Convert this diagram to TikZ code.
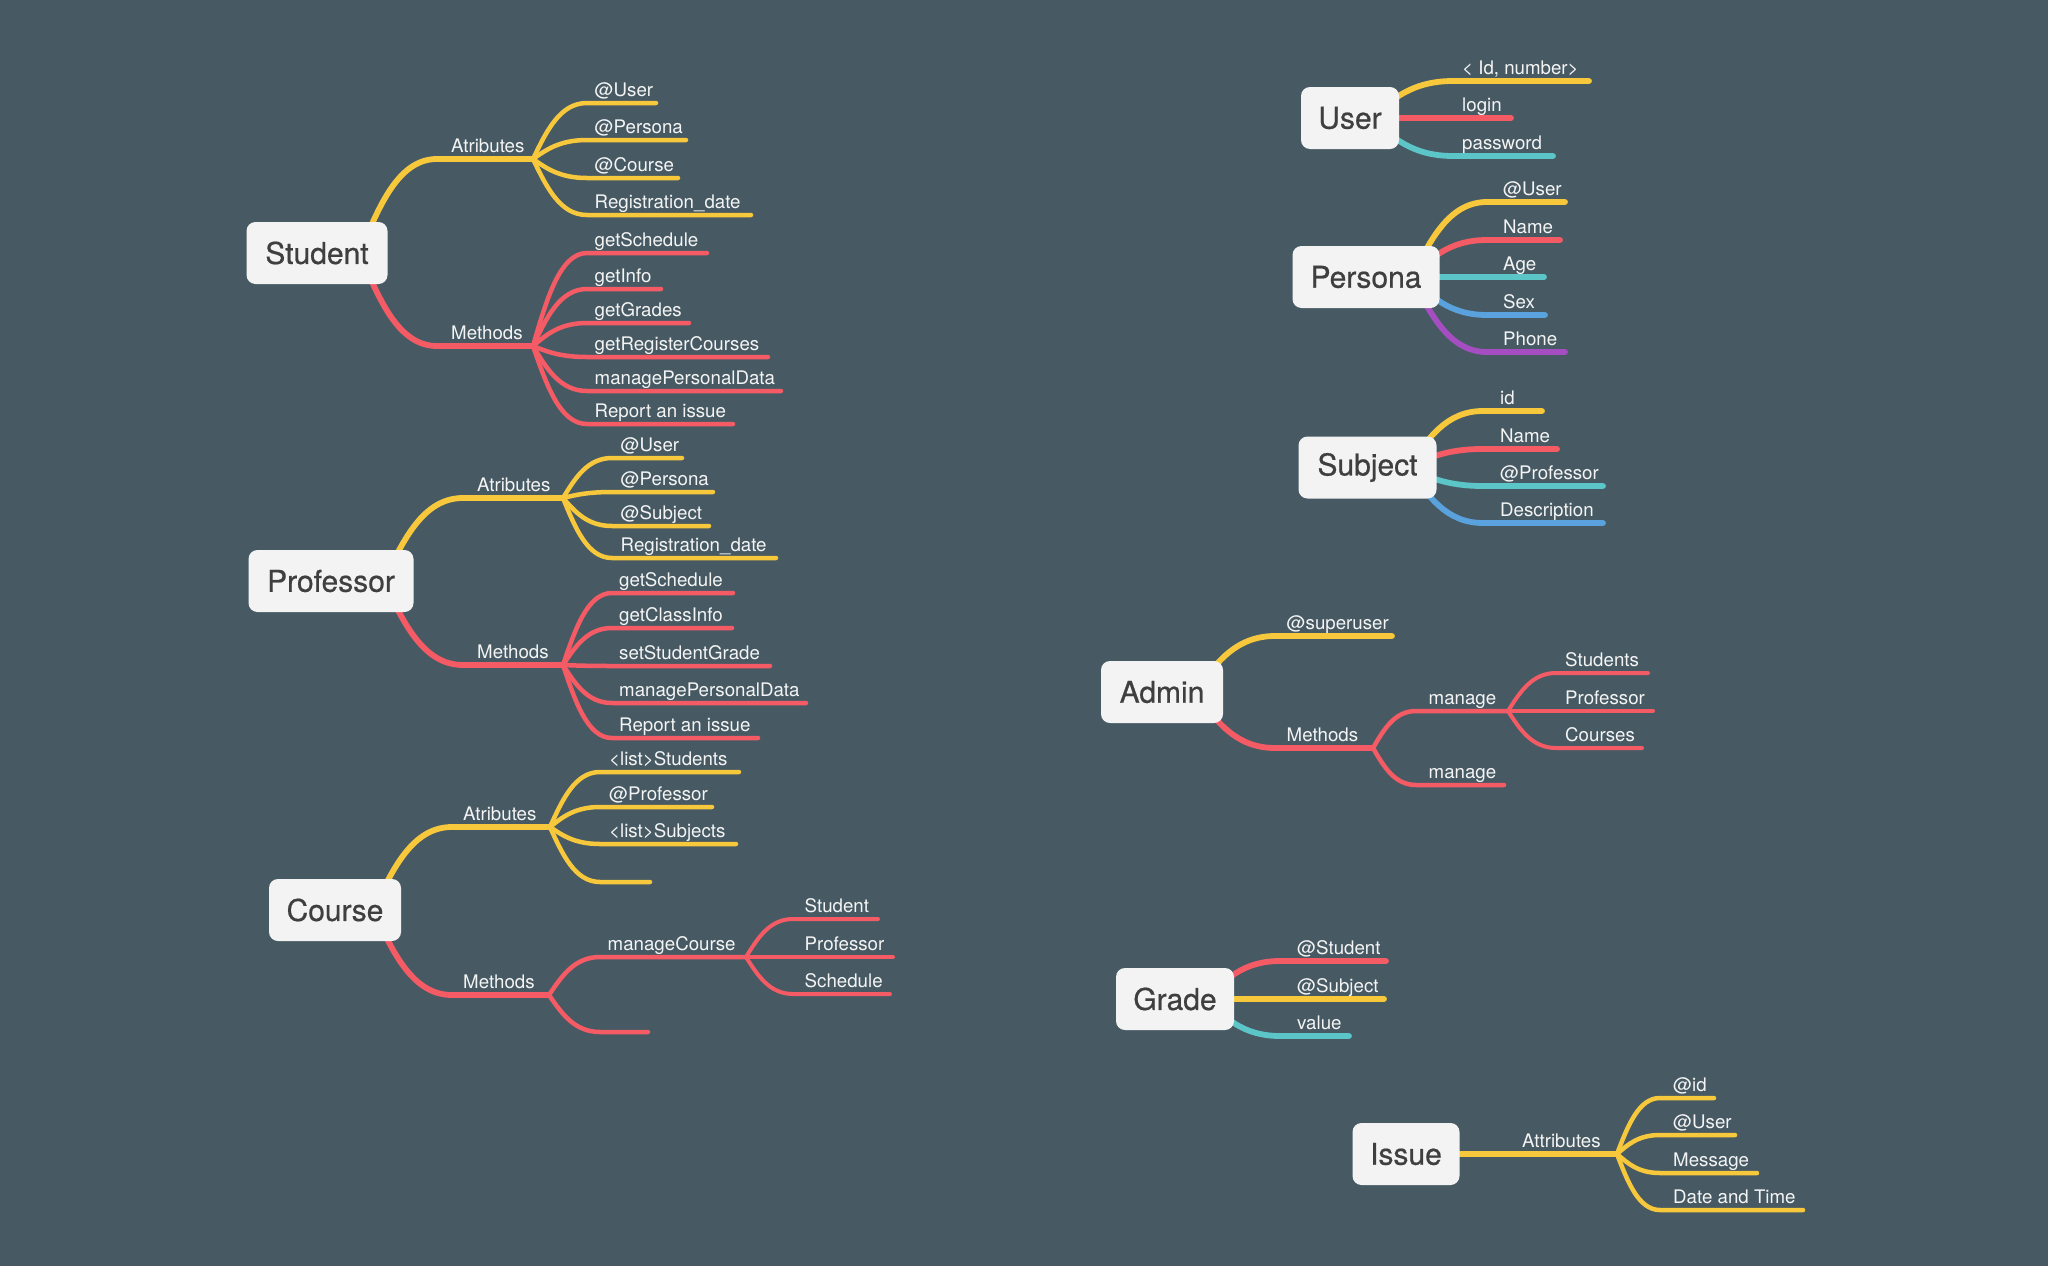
\documentclass[tikz,border=0pt]{standalone}
\usepackage{fontspec}
\setmainfont{TeX Gyre Heros}
\newfontfamily\rootfont{TeX Gyre Heros}[FakeBold=0.6]
\usetikzlibrary{calc}

\definecolor{bgc}{HTML}{475A64}
\definecolor{cy}{HTML}{F8C83C}
\definecolor{cr}{HTML}{F45B64}
\definecolor{ct}{HTML}{5CC5C8}
\definecolor{cb}{HTML}{5AA2DE}
\definecolor{cp}{HTML}{A54EC1}
\definecolor{boxfill}{HTML}{F3F3F3}
\definecolor{boxtext}{HTML}{3F3F3F}
\definecolor{lbltext}{HTML}{F4F4F4}

\pgfdeclarelayer{bg}
\pgfsetlayers{bg,main}

\tikzset{
  root/.style={fill=boxfill, rounded corners=9pt, minimum height=62pt, text=boxtext,
    font=\rootfont\fontsize{30}{32}\selectfont, inner sep=0pt},
  lbl/.style={anchor=base west, text=lbltext, font=\fontsize{18.7}{20}\selectfont, inner sep=0pt},
  lv1/.style={line width=5.8pt, line cap=round},
  lv2/.style={line width=4.5pt, line cap=round},
  lv3/.style={line width=4pt, line cap=round},
  curv/.style={to path={let \p1=(\tikztostart),\p2=(\tikztotarget) in
    .. controls ({\x1+0.25*(\x2-\x1)},{\y1+0.5*(\y2-\y1)}) and ({0.5*(\x1+\x2)},\y2) .. (\tikztotarget)}},
}

% branch: name, style, parent point, x where the underline starts, y, x where it ends, label offset, label
\newcommand\twig[8]{%
  \coordinate (#1-in) at (#4,#5);
  \coordinate (#1) at (#6,#5);
  \node[lbl] (#1-t) at ([xshift=#7pt,yshift=7pt]#1-in) {#8};
  \begin{pgfonlayer}{bg}\draw[#2] (#3) to[curv] (#1-in) -- (#1);\end{pgfonlayer}%
}
% branch without a label
\newcommand\stub[6]{%
  \coordinate (#1-in) at (#4,#5);
  \coordinate (#1) at (#6,#5);
  \begin{pgfonlayer}{bg}\draw[#2] (#3) to[curv] (#1-in) -- (#1);\end{pgfonlayer}%
}

\begin{document}
\begin{tikzpicture}[x=1pt,y=-1pt]
\useasboundingbox (0,0) rectangle (2048,1266);
\begin{pgfonlayer}{bg}
  \fill[bgc] (0,0) rectangle (2048,1266);
\end{pgfonlayer}

% ---------- Student ----------
\node[root, minimum width=141pt] (student) at (317,253) {Student};
\coordinate (student-o) at ([xshift=-28pt]student.east);
\twig{sa}{cy,lv1}{student-o}{437}{159}{533}{14}{Atributes}
\twig{sa1}{cy,lv2}{sa}{587}{103}{656}{7.5}{@User}
\twig{sa2}{cy,lv2}{sa}{587}{140}{686}{7.5}{@Persona}
\twig{sa3}{cy,lv2}{sa}{587}{178}{678}{7.5}{@Course}
\twig{sa4}{cy,lv2}{sa}{587}{215}{751}{7.5}{Registration\_date}
\twig{sm}{cr,lv1}{student-o}{437}{346}{533}{14}{Methods}
\twig{sm1}{cr,lv2}{sm}{587}{253}{707}{7.5}{getSchedule}
\twig{sm2}{cr,lv2}{sm}{587}{289}{661}{7.5}{getInfo}
\twig{sm3}{cr,lv2}{sm}{587}{323}{689}{7.5}{getGrades}
\twig{sm4}{cr,lv2}{sm}{587}{357}{768}{7.5}{getRegisterCourses}
\twig{sm5}{cr,lv2}{sm}{587}{391}{781}{7.5}{managePersonalData}
\twig{sm6}{cr,lv2}{sm}{587}{424}{733}{7.5}{Report an issue}

% ---------- Professor ----------
\node[root, minimum width=165pt] (prof) at (331,581) {Professor};
\coordinate (prof-o) at ([xshift=-30pt]prof.east);
\twig{pa}{cy,lv1}{prof-o}{463}{498}{563}{14}{Atributes}
\twig{pa1}{cy,lv2}{pa}{612}{458}{682}{8.5}{@User}
\twig{pa2}{cy,lv2}{pa}{612}{492}{713}{8.5}{@Persona}
\twig{pa3}{cy,lv2}{pa}{612}{526}{709}{8.5}{@Subject}
\twig{pa4}{cy,lv2}{pa}{612}{558}{776}{8.5}{Registration\_date}
\twig{pm}{cr,lv1}{prof-o}{463}{665}{563}{14}{Methods}
\twig{pm1}{cr,lv2}{pm}{612}{593}{733}{7}{getSchedule}
\twig{pm2}{cr,lv2}{pm}{612}{628}{732}{7}{getClassInfo}
\twig{pm3}{cr,lv2}{pm}{612}{666}{770}{7}{setStudentGrade}
\twig{pm4}{cr,lv2}{pm}{612}{703}{806}{7}{managePersonalData}
\twig{pm5}{cr,lv2}{pm}{612}{738}{758}{7}{Report an issue}

% ---------- Course ----------
\node[root, minimum width=132pt] (course) at (335,910) {Course};
\coordinate (course-o) at ([xshift=-28pt]course.east);
\twig{ca}{cy,lv1}{course-o}{452}{827}{550}{11}{Atributes}
\twig{ca1}{cy,lv2}{ca}{600}{772}{739}{9}{<list>Students}
\twig{ca2}{cy,lv2}{ca}{600}{807}{712}{9}{@Professor}
\twig{ca3}{cy,lv2}{ca}{600}{844}{736}{9}{<list>Subjects}
\stub{ca4}{cy,lv2}{ca}{600}{882}{650}
\twig{cm}{cr,lv1}{course-o}{452}{995}{549}{11}{Methods}
\twig{cm1}{cr,lv2}{cm}{600}{957}{746}{7.5}{manageCourse}
\twig{cm1a}{cr,lv3}{cm1}{793}{919}{878}{11.5}{Student}
\twig{cm1b}{cr,lv3}{cm1}{793}{957}{893}{11.5}{Professor}
\twig{cm1c}{cr,lv3}{cm1}{793}{994}{890}{11.5}{Schedule}
\stub{cm2}{cr,lv2}{cm}{600}{1032}{648}

% ---------- User ----------
\node[root, minimum width=98pt] (user) at (1350,118) {User};
\coordinate (user-o) at ([xshift=-28pt]user.east);
\twig{u1}{cy,lv1}{user-o}{1453}{81}{1589}{9}{< Id, number>}
\twig{u2}{cr,lv1}{user-o}{1453}{118}{1511}{9}{login}
\twig{u3}{ct,lv1}{user-o}{1453}{156}{1553}{9}{password}

% ---------- Persona ----------
\node[root, minimum width=147pt] (persona) at (1366,277) {Persona};
\coordinate (persona-o) at ([xshift=-28pt]persona.east);
\twig{pe1}{cy,lv1}{persona-o}{1487}{202}{1565}{16}{@User}
\twig{pe2}{cr,lv1}{persona-o}{1487}{240}{1560}{16}{Name}
\twig{pe3}{ct,lv1}{persona-o}{1487}{277}{1544}{16}{Age}
\twig{pe4}{cb,lv1}{persona-o}{1487}{315}{1545}{16}{Sex}
\twig{pe5}{cp,lv1}{persona-o}{1487}{352}{1565}{16}{Phone}

% ---------- Subject ----------
\node[root, minimum width=138pt] (subject) at (1367.5,467.5) {Subject};
\coordinate (subject-o) at ([xshift=-28pt]subject.east);
\twig{su1}{cy,lv1}{subject-o}{1483}{411}{1542}{17}{id}
\twig{su2}{cr,lv1}{subject-o}{1483}{449}{1557}{17}{Name}
\twig{su3}{ct,lv1}{subject-o}{1483}{486}{1603}{17}{@Professor}
\twig{su4}{cb,lv1}{subject-o}{1483}{523}{1603}{17}{Description}

% ---------- Admin ----------
\node[root, minimum width=122pt] (admin) at (1162,692) {Admin};
\coordinate (admin-o) at ([xshift=-28pt]admin.east);
\twig{ad1}{cy,lv1}{admin-o}{1275}{636}{1392}{11.5}{@superuser}
\twig{ad2}{cr,lv1}{admin-o}{1275}{748}{1373}{11.5}{Methods}
\twig{ad2a}{cr,lv2}{ad2}{1416}{711}{1508}{12.5}{manage}
\twig{ad2a1}{cr,lv3}{ad2a}{1556}{673}{1648}{9}{Students}
\twig{ad2a2}{cr,lv3}{ad2a}{1556}{711}{1653}{9}{Professor}
\twig{ad2a3}{cr,lv3}{ad2a}{1556}{748}{1642}{9}{Courses}
\twig{ad2b}{cr,lv2}{ad2}{1416}{785}{1504}{12.5}{manage}

% ---------- Grade ----------
\node[root, minimum width=118pt] (grade) at (1175,999) {Grade};
\coordinate (grade-o) at ([xshift=-28pt]grade.east);
\twig{g1}{cr,lv1}{grade-o}{1280}{961}{1386}{17}{@Student}
\twig{g2}{cy,lv1}{grade-o}{1280}{999}{1384}{17}{@Subject}
\twig{g3}{ct,lv1}{grade-o}{1280}{1036}{1349}{17}{value}

% ---------- Issue ----------
\node[root, minimum width=107pt] (issue) at (1406,1154) {Issue};
\coordinate (issue-o) at ([xshift=-28pt]issue.east);
\twig{i1}{cy,lv1}{issue-o}{1505}{1154}{1617}{17}{Attributes}
\twig{i11}{cy,lv2}{i1}{1660}{1098}{1714}{13}{@id}
\twig{i12}{cy,lv2}{i1}{1660}{1135}{1735}{13}{@User}
\twig{i13}{cy,lv2}{i1}{1660}{1173}{1757}{13}{Message}
\twig{i14}{cy,lv2}{i1}{1660}{1210}{1803}{13}{Date and Time}
\end{tikzpicture}
\end{document}
